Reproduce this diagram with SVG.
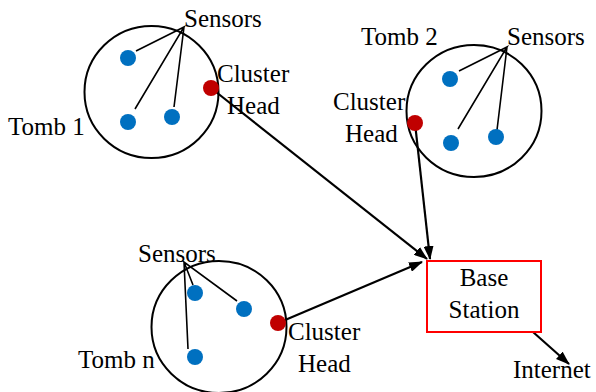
<svg xmlns="http://www.w3.org/2000/svg" width="596" height="392" viewBox="0 0 596 392">
<defs>
<style>
text{font-family:"Liberation Serif","Times New Roman",serif;font-size:25px;fill:#000}
.tomb{fill:none;stroke:#000;stroke-width:2}
.sensor{fill:#0070C0}
.head{fill:#C00000}
.sl{stroke:#000;stroke-width:1.6;fill:none}
.conn{stroke:#000;stroke-width:2.2;fill:none;marker-end:url(#arr)}
.bs{fill:#fff;stroke:#FF0000;stroke-width:2}
</style>
<marker id="arr" markerUnits="userSpaceOnUse" markerWidth="14" markerHeight="10" refX="13" refY="5" orient="auto">
<path d="M0,0 L14,5 L0,10 Z" fill="#000"/>
</marker>
</defs>
<rect width="596" height="392" fill="#fff"/>
<g id="connectors">
<line class="conn" x1="211" y1="88" x2="427" y2="259"/>
<line class="conn" x1="415" y1="123" x2="430" y2="259"/>
<line class="conn" x1="278" y1="323" x2="422" y2="262"/>
<line class="conn" x1="533" y1="332" x2="569" y2="364"/>
</g>
<g id="tomb1">
<ellipse class="tomb" cx="151.5" cy="92" rx="67" ry="66"/>
<path class="sl" d="M136,51 L184,27 L135,109 M184,27 L174,107"/>
<circle class="sensor" cx="128" cy="58" r="8"/>
<circle class="sensor" cx="128" cy="122" r="8"/>
<circle class="sensor" cx="172" cy="117" r="8"/>
<circle class="head" cx="211" cy="88" r="8"/>
<text x="184" y="27">Sensors</text>
<text x="217" y="82">Cluster</text>
<text x="227" y="114">Head</text>
<text x="8" y="135">Tomb 1</text>
</g>
<g id="tomb2">
<ellipse class="tomb" cx="474" cy="111" rx="67.5" ry="66"/>
<path class="sl" d="M459,71 L507,47 L458,129 M507,47 L497,130"/>
<circle class="sensor" cx="450" cy="79" r="8"/>
<circle class="sensor" cx="451" cy="143" r="8"/>
<circle class="sensor" cx="496" cy="137" r="8"/>
<circle class="head" cx="415" cy="123" r="8"/>
<text x="507" y="45">Sensors</text>
<text x="361" y="45">Tomb 2</text>
<text x="333" y="110">Cluster</text>
<text x="345" y="142">Head</text>
</g>
<g id="tombn">
<ellipse class="tomb" cx="219" cy="327" rx="67.5" ry="66"/>
<path class="sl" d="M193,285 L184,262 L237,301 M184,262 L188,349"/>
<circle class="sensor" cx="195" cy="293" r="8"/>
<circle class="sensor" cx="244" cy="309" r="8"/>
<circle class="sensor" cx="195" cy="357" r="8"/>
<circle class="head" cx="278" cy="323" r="8"/>
<text x="138" y="262">Sensors</text>
<text x="288" y="340">Cluster</text>
<text x="298" y="372">Head</text>
<text x="78" y="368">Tomb n</text>
</g>
<g id="base-station">
<rect class="bs" x="427" y="261" width="114" height="71"/>
<text x="484" y="286" text-anchor="middle">Base</text>
<text x="484" y="318" text-anchor="middle">Station</text>
</g>
<g id="internet">
<text x="513" y="378">Internet</text>
</g>
</svg>
